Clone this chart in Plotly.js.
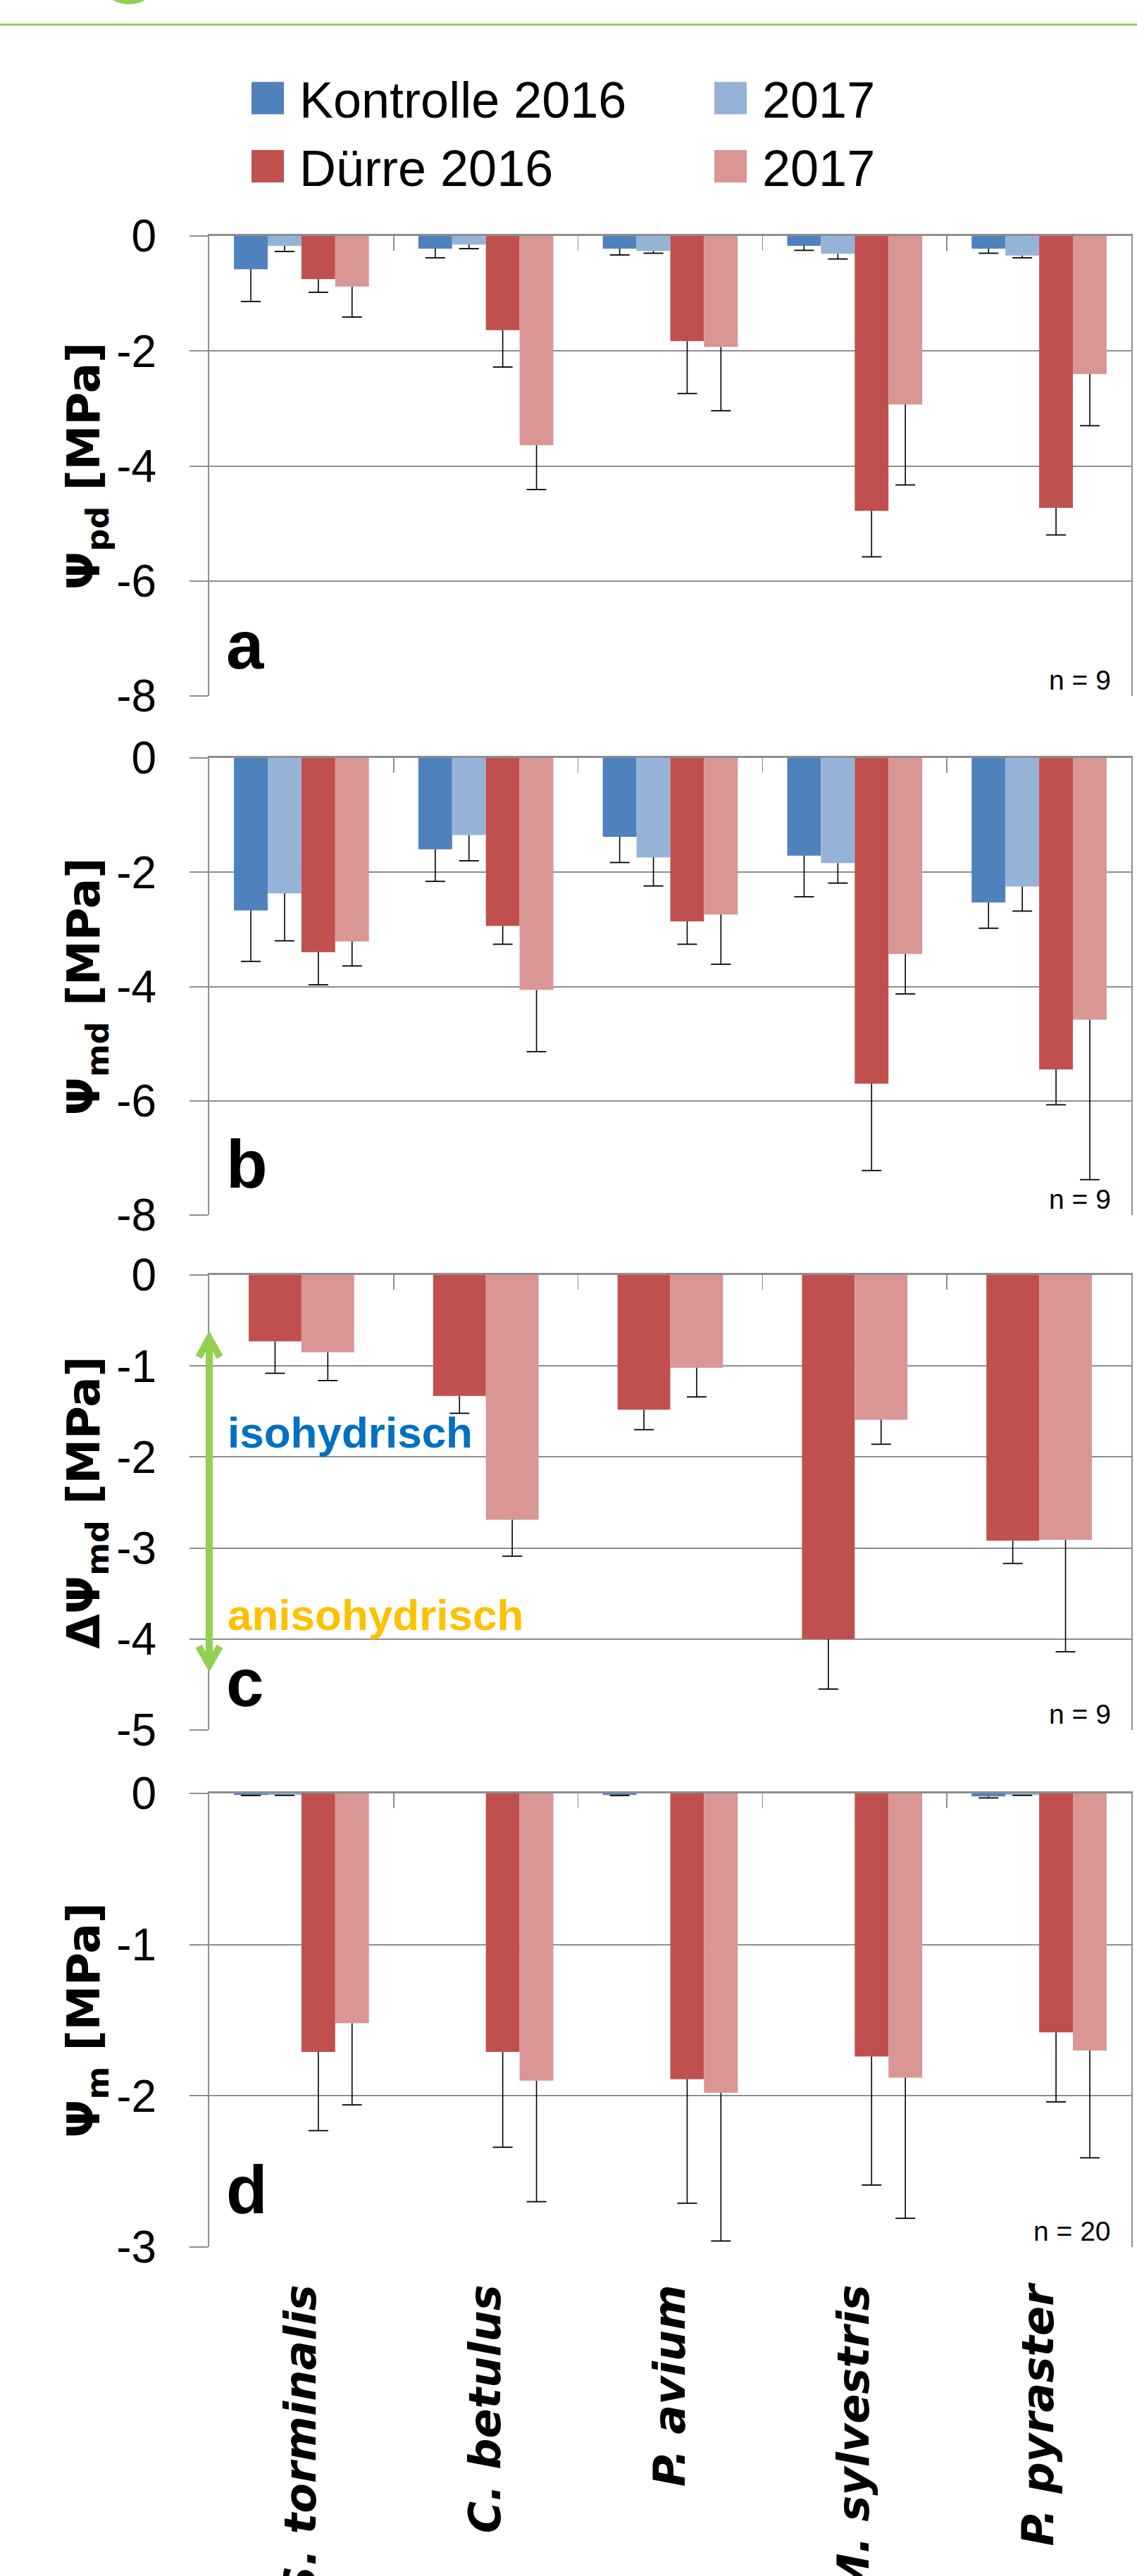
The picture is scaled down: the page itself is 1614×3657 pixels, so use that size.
<!DOCTYPE html>
<html>
<head>
<meta charset="utf-8">
<script src="https://cdn.plot.ly/plotly-3.0.1.min.js"></script>
<style>
html,body{margin:0;padding:0;background:#fff;}
#chart{width:1614px;height:3657px;}
</style>
</head>
<body>
<div id="chart"></div>
<script>
// ---------------- DATA ----------------
const categories = ['S. torminalis', 'C. betulus', 'P. avium', 'M. sylvestris', 'P. pyraster'];
const seriesNames = ['Kontrolle 2016', '2017', 'Dürre 2016', '2017'];

// Panel a: Ψpd [MPa] (means, lower error in MPa)
const psiPd_kontrolle2016 = [-0.58, -0.22, -0.22, -0.17, -0.22];
const psiPd_kontrolle2016_err = [0.56, 0.16, 0.11, 0.08, 0.08];
const psiPd_kontrolle2017 = [-0.17, -0.15, -0.26, -0.31, -0.34];
const psiPd_kontrolle2017_err = [0.10, 0.07, 0.04, 0.09, 0.04];
const psiPd_duerre2016 = [-0.75, -1.64, -1.83, -4.78, -4.73];
const psiPd_duerre2016_err = [0.23, 0.64, 0.91, 0.80, 0.47];
const psiPd_duerre2017 = [-0.88, -3.64, -1.93, -2.93, -2.40];
const psiPd_duerre2017_err = [0.53, 0.77, 1.11, 1.40, 0.90];

// Panel b: Ψmd [MPa]
const psiMd_kontrolle2016 = [-2.67, -1.60, -1.38, -1.71, -2.53];
const psiMd_kontrolle2016_err = [0.89, 0.56, 0.45, 0.72, 0.45];
const psiMd_kontrolle2017 = [-2.37, -1.35, -1.74, -1.84, -2.25];
const psiMd_kontrolle2017_err = [0.83, 0.45, 0.50, 0.35, 0.43];
const psiMd_duerre2016 = [-3.40, -2.94, -2.86, -5.70, -5.45];
const psiMd_duerre2016_err = [0.57, 0.32, 0.40, 1.52, 0.62];
const psiMd_duerre2017 = [-3.21, -4.06, -2.74, -3.43, -4.58];
const psiMd_duerre2017_err = [0.43, 1.08, 0.87, 0.70, 2.80];

// Panel c: ΔΨmd [MPa]
const dPsiMd_duerre2016 = [-0.73, -1.33, -1.48, -4.00, -2.92];
const dPsiMd_duerre2016_err = [0.35, 0.19, 0.22, 0.55, 0.25];
const dPsiMd_duerre2017 = [-0.85, -2.69, -1.02, -1.59, -2.91];
const dPsiMd_duerre2017_err = [0.31, 0.40, 0.32, 0.27, 1.23];

// Panel d: Ψm [MPa]
const psiM_kontrolle2016 = [-0.01, 0, -0.01, 0, -0.02];
const psiM_kontrolle2016_err = [0.004, 0, 0.004, 0, 0.01];
const psiM_kontrolle2017 = [-0.01, 0, 0, 0, -0.01];
const psiM_kontrolle2017_err = [0.003, 0, 0, 0, 0.003];
const psiM_duerre2016 = [-1.71, -1.71, -1.89, -1.74, -1.58];
const psiM_duerre2016_err = [0.52, 0.63, 0.82, 0.85, 0.46];
const psiM_duerre2017 = [-1.52, -1.90, -1.98, -1.88, -1.70];
const psiM_duerre2017_err = [0.54, 0.80, 0.98, 0.93, 0.71];

// Axis ticks and labels
const tickVals_a = [-8, -6, -4, -2, 0];
const tickVals_b = [-8, -6, -4, -2, 0];
const tickVals_c = [-5, -4, -3, -2, -1, 0];
const tickVals_d = [-3, -2, -1, 0];
const yTitles = ['Ψ<sub>pd</sub> [MPa]', 'Ψ<sub>md</sub> [MPa]', 'ΔΨ<sub>md</sub> [MPa]', 'Ψ<sub>m</sub> [MPa]'];
const panelLetters = ['a', 'b', 'c', 'd'];
const nLabels = ['n = 9', 'n = 9', 'n = 9', 'n = 20'];
const hydryLabels = ['isohydrisch', 'anisohydrisch'];

// ---------------- STYLE ----------------
const COLORS = ['#4F81BD', '#95B3D7', '#C0504D', '#D99694'];
const GRID = '#8e8e8e';
const SANS = 'Liberation Sans, Arial, sans-serif';
const BOLDFONT = 'DejaVu Sans, Verdana, sans-serif';
const idx = categories.map((c, i) => i);

const traces = [];
function axName(letter, n) { return n === 1 ? letter : letter + n; }

function addSeries(panel, sIdx, values, errs, width, offset, legendId) {
  const xa = axName('x', panel), ya = axName('y', panel);
  traces.push({
    type: 'bar', x: idx, y: values, width: width, offset: offset,
    xaxis: xa, yaxis: ya,
    name: seriesNames[sIdx],
    legend: legendId || 'legend',
    showlegend: panel === 1,
    marker: {color: COLORS[sIdx], line: {width: 0}},
    error_y: {type: 'data', symmetric: false, array: values.map(() => 0), arrayminus: errs,
              width: 0, thickness: 1.6, color: '#000'},
    hoverinfo: 'skip'
  });
  // bottom caps of error bars
  traces.push({
    type: 'scatter', mode: 'markers',
    x: idx.map(i => i + offset + width / 2),
    y: values.map((v, i) => errs[i] > 0 ? v - errs[i] : null),
    xaxis: xa, yaxis: ya, showlegend: false, cliponaxis: false,
    marker: {symbol: 'line-ew', size: 20, color: '#000', line: {width: 1.8, color: '#000'}},
    hoverinfo: 'skip'
  });
}

const w4 = 0.183, off4 = [-2 * w4, -w4, 0, w4];
const w2 = 0.286, off2 = [-w2, 0];

addSeries(1, 0, psiPd_kontrolle2016, psiPd_kontrolle2016_err, w4, off4[0], 'legend');
addSeries(1, 1, psiPd_kontrolle2017, psiPd_kontrolle2017_err, w4, off4[1], 'legend2');
addSeries(1, 2, psiPd_duerre2016, psiPd_duerre2016_err, w4, off4[2], 'legend');
addSeries(1, 3, psiPd_duerre2017, psiPd_duerre2017_err, w4, off4[3], 'legend2');

addSeries(2, 0, psiMd_kontrolle2016, psiMd_kontrolle2016_err, w4, off4[0]);
addSeries(2, 1, psiMd_kontrolle2017, psiMd_kontrolle2017_err, w4, off4[1]);
addSeries(2, 2, psiMd_duerre2016, psiMd_duerre2016_err, w4, off4[2]);
addSeries(2, 3, psiMd_duerre2017, psiMd_duerre2017_err, w4, off4[3]);

addSeries(3, 2, dPsiMd_duerre2016, dPsiMd_duerre2016_err, w2, off2[0]);
addSeries(3, 3, dPsiMd_duerre2017, dPsiMd_duerre2017_err, w2, off2[1]);

addSeries(4, 0, psiM_kontrolle2016, psiM_kontrolle2016_err, w4, off4[0]);
addSeries(4, 1, psiM_kontrolle2017, psiM_kontrolle2017_err, w4, off4[1]);
addSeries(4, 2, psiM_duerre2016, psiM_duerre2016_err, w4, off4[2]);
addSeries(4, 3, psiM_duerre2017, psiM_duerre2017_err, w4, off4[3]);

// carrier trace for the category-label axis below panel d
traces.push({type: 'scatter', mode: 'markers', x: idx, y: idx.map(() => null),
             xaxis: 'x5', yaxis: 'y4', showlegend: false, hoverinfo: 'skip'});

// ---------------- LAYOUT ----------------
const H = 3657, W = 1614, ML = 297, MR = 8;
const PW = W - ML - MR;
const panelPx = [[335, 988], [1076, 1725], [1810, 2456], [2546, 3190]]; // top, bottom in px
const tickSets = [tickVals_a, tickVals_b, tickVals_c, tickVals_d];

const legendCommon = {xanchor: 'left', y: 1 - 86 / H, yanchor: 'top',
  orientation: 'v', itemwidth: 80, font: {family: SANS, size: 72, color: '#000'},
  bgcolor: 'rgba(0,0,0,0)', traceorder: 'normal', itemclick: false, itemdoubleclick: false};

const layout = {
  width: W, height: H,
  margin: {l: ML, r: MR, t: 0, b: 0, pad: 0},
  paper_bgcolor: '#fff', plot_bgcolor: '#fff',
  barmode: 'overlay',
  font: {family: SANS, color: '#000'},
  showlegend: true,
  legend: Object.assign({x: (335 - ML) / PW}, legendCommon),
  legend2: Object.assign({x: (992 - ML) / PW}, legendCommon),
  annotations: [],
  shapes: []
};

for (let p = 1; p <= 4; p++) {
  const [top, bot] = panelPx[p - 1];
  const tv = tickSets[p - 1];
  layout[axName('xaxis', p)] = {
    domain: [0, 1], anchor: axName('y', p), side: 'top',
    range: [-0.5, 4.5], showgrid: false, zeroline: false,
    showline: true, linecolor: GRID, linewidth: 3,
    ticks: 'inside', tickvals: [0.5, 1.5, 2.5, 3.5], ticklen: 21, tickwidth: 1.5, tickcolor: GRID,
    showticklabels: false, fixedrange: true
  };
  layout[axName('yaxis', p)] = {
    domain: [1 - bot / H, 1 - top / H], anchor: axName('x', p),
    range: [Math.min(...tv), 0], tickvals: tv, ticktext: tv.map(v => String(v)),
    ticks: 'outside', ticklen: 26, tickwidth: 2, tickcolor: GRID,
    showgrid: true, gridcolor: GRID, gridwidth: 2, zeroline: false,
    showline: true, linecolor: GRID, linewidth: 2, mirror: true,
    ticklabelstandoff: 34,
    tickfont: {family: SANS, size: 64, color: '#000'},
    title: {text: yTitles[p - 1], standoff: 0,
            font: {family: BOLDFONT, size: 64, weight: 'bold', color: '#000'}},
    fixedrange: true
  };
  const ph = bot - top;
  const letterBase = [38, 38, 33, 47][p - 1];
  layout.annotations.push({
    xref: axName('x', p) + ' domain', yref: axName('y', p) + ' domain',
    x: 0.0168, y: (letterBase - 0.212 * 96 - 1) / ph, xanchor: 'left', yanchor: 'bottom',
    text: panelLetters[p - 1], showarrow: false,
    font: {family: SANS, size: 96, weight: 'bold', color: '#000'}
  });
  layout.annotations.push({
    xref: axName('x', p) + ' domain', yref: axName('y', p) + ' domain',
    x: 0.9794, y: (8 - 0.212 * 39 - 1) / ph, xanchor: 'right', yanchor: 'bottom',
    text: nLabels[p - 1], showarrow: false,
    font: {family: SANS, size: 39, color: '#000'}
  });
}

// category labels below the bottom panel
layout.xaxis5 = {
  overlaying: 'x4', anchor: 'y4', side: 'bottom', range: [-0.5, 4.5],
  tickvals: idx, ticktext: categories, tickangle: -90, ticks: '',
  showline: false, showgrid: false, zeroline: false, ticklabelstandoff: 40,
  tickfont: {family: BOLDFONT, size: 62, weight: 'bold', style: 'italic', color: '#000'},
  fixedrange: true
};

// iso/anisohydric annotations in panel c
layout.annotations.push({
  xref: 'x3 domain', yref: 'y3', x: 0.0183, y: -2.012, xanchor: 'left', yanchor: 'bottom',
  text: hydryLabels[0], showarrow: false,
  font: {family: SANS, size: 62, weight: 'bold', color: '#0070C0'}
});
layout.annotations.push({
  xref: 'x3 domain', yref: 'y3', x: 0.0183, y: -4.019, xanchor: 'left', yanchor: 'bottom',
  text: hydryLabels[1], showarrow: false,
  font: {family: SANS, size: 62, weight: 'bold', color: '#FFC000'}
});

// green double arrow at the y axis of panel c
const GREEN = '#92D050';
const ah = 15 / PW;
layout.shapes.push({type: 'line', xref: 'x3 domain', yref: 'y3', x0: 0, x1: 0, y0: -0.70, y1: -4.28,
                    line: {color: GREEN, width: 10}});
layout.shapes.push({type: 'path', xref: 'x3 domain', yref: 'y3',
                    path: `M ${-ah} -0.903 L 0 -0.694 L ${ah} -0.903`, line: {color: GREEN, width: 10}});
layout.shapes.push({type: 'path', xref: 'x3 domain', yref: 'y3',
                    path: `M ${-ah} -4.081 L 0 -4.283 L ${ah} -4.081`, line: {color: GREEN, width: 10}});

// header decoration
layout.shapes.push({type: 'line', xref: 'paper', yref: 'paper', x0: -ML / PW, x1: (W - ML) / PW,
                    y0: 1 - 35 / H, y1: 1 - 35 / H, line: {color: GREEN, width: 3}});
layout.shapes.push({type: 'circle', xref: 'paper', yref: 'paper',
                    x0: (136 - ML) / PW, x1: (230 - ML) / PW, y0: 1 - 6 / H, y1: 1 + 88 / H,
                    fillcolor: GREEN, line: {width: 0}});

function enlargeLegendSymbols(gd) {
  gd.querySelectorAll('g.legendpoints path').forEach(p => {
    p.setAttribute('d', 'M23,23H-23V-23H23Z');
  });
}

Plotly.newPlot('chart', traces, layout, {staticPlot: true, displayModeBar: false}).then(gd => {
  enlargeLegendSymbols(gd);
  setTimeout(() => enlargeLegendSymbols(gd), 50);
});
</script>
</body>
</html>
